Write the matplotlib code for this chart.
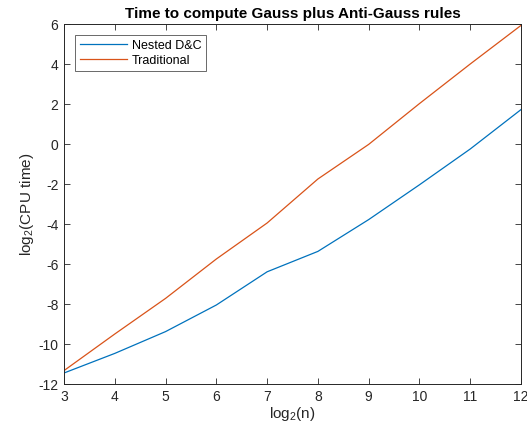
import matplotlib
matplotlib.use("Agg")
import matplotlib.pyplot as plt

log2n = [3, 4, 5, 6, 7, 8, 9, 10, 11, 12]
nested = [-11.45, -10.47, -9.38, -8.05, -6.39, -5.37, -3.78, -2.04, -0.25, 1.72]
traditional = [-11.33, -9.5, -7.72, -5.75, -3.95, -1.75, -0.02, 2.02, 4.0, 5.93]
xticks = [3, 4, 5, 6, 7, 8, 9, 10, 11, 12]
yticks = [-12, -10, -8, -6, -4, -2, 0, 2, 4, 6]

plt.rcParams['font.family'] = ['Liberation Sans', 'DejaVu Sans']
plt.rcParams['axes.unicode_minus'] = False
plt.rcParams['mathtext.fontset'] = 'custom'
plt.rcParams['mathtext.rm'] = 'Liberation Sans'
fig = plt.figure(figsize=(5.27, 4.30), dpi=100)
ax = fig.add_axes([64/527, 46/430, 457/527, 360/430])
ax.plot(log2n, nested, color='#0072BD', lw=0.9, label='Nested D&C')
ax.plot(log2n, traditional, color='#D95319', lw=0.9, label='Traditional')
ax.set_xlim(3, 12)
ax.set_ylim(-12, 6)
ax.set_xticks(xticks)
ax.set_yticks(yticks)
ax.tick_params(direction='in', top=True, right=True, labelsize=10, length=4, width=0.6, colors='#262626', pad=4)
for s in ax.spines.values():
    s.set_linewidth(0.7)
    s.set_color('#262626')
ax.set_xlabel(r'log$_\mathregular{2}$(n)', fontsize=11, color='#262626', labelpad=1)
ax.set_ylabel(r'log$_\mathregular{2}$(CPU time)', fontsize=11, color='#262626', labelpad=2)
ax.set_title('Time to compute Gauss plus Anti-Gauss rules', fontsize=11, fontweight='bold', pad=4)
leg = ax.legend(loc='upper left', fontsize=9, frameon=True, fancybox=False, borderaxespad=0.9,
                handlelength=3.8, handletextpad=0.4, borderpad=0.35, labelspacing=0.25)
leg.get_frame().set_edgecolor('#262626')
leg.get_frame().set_linewidth(0.6)
fig.savefig('out.png', dpi=100)
